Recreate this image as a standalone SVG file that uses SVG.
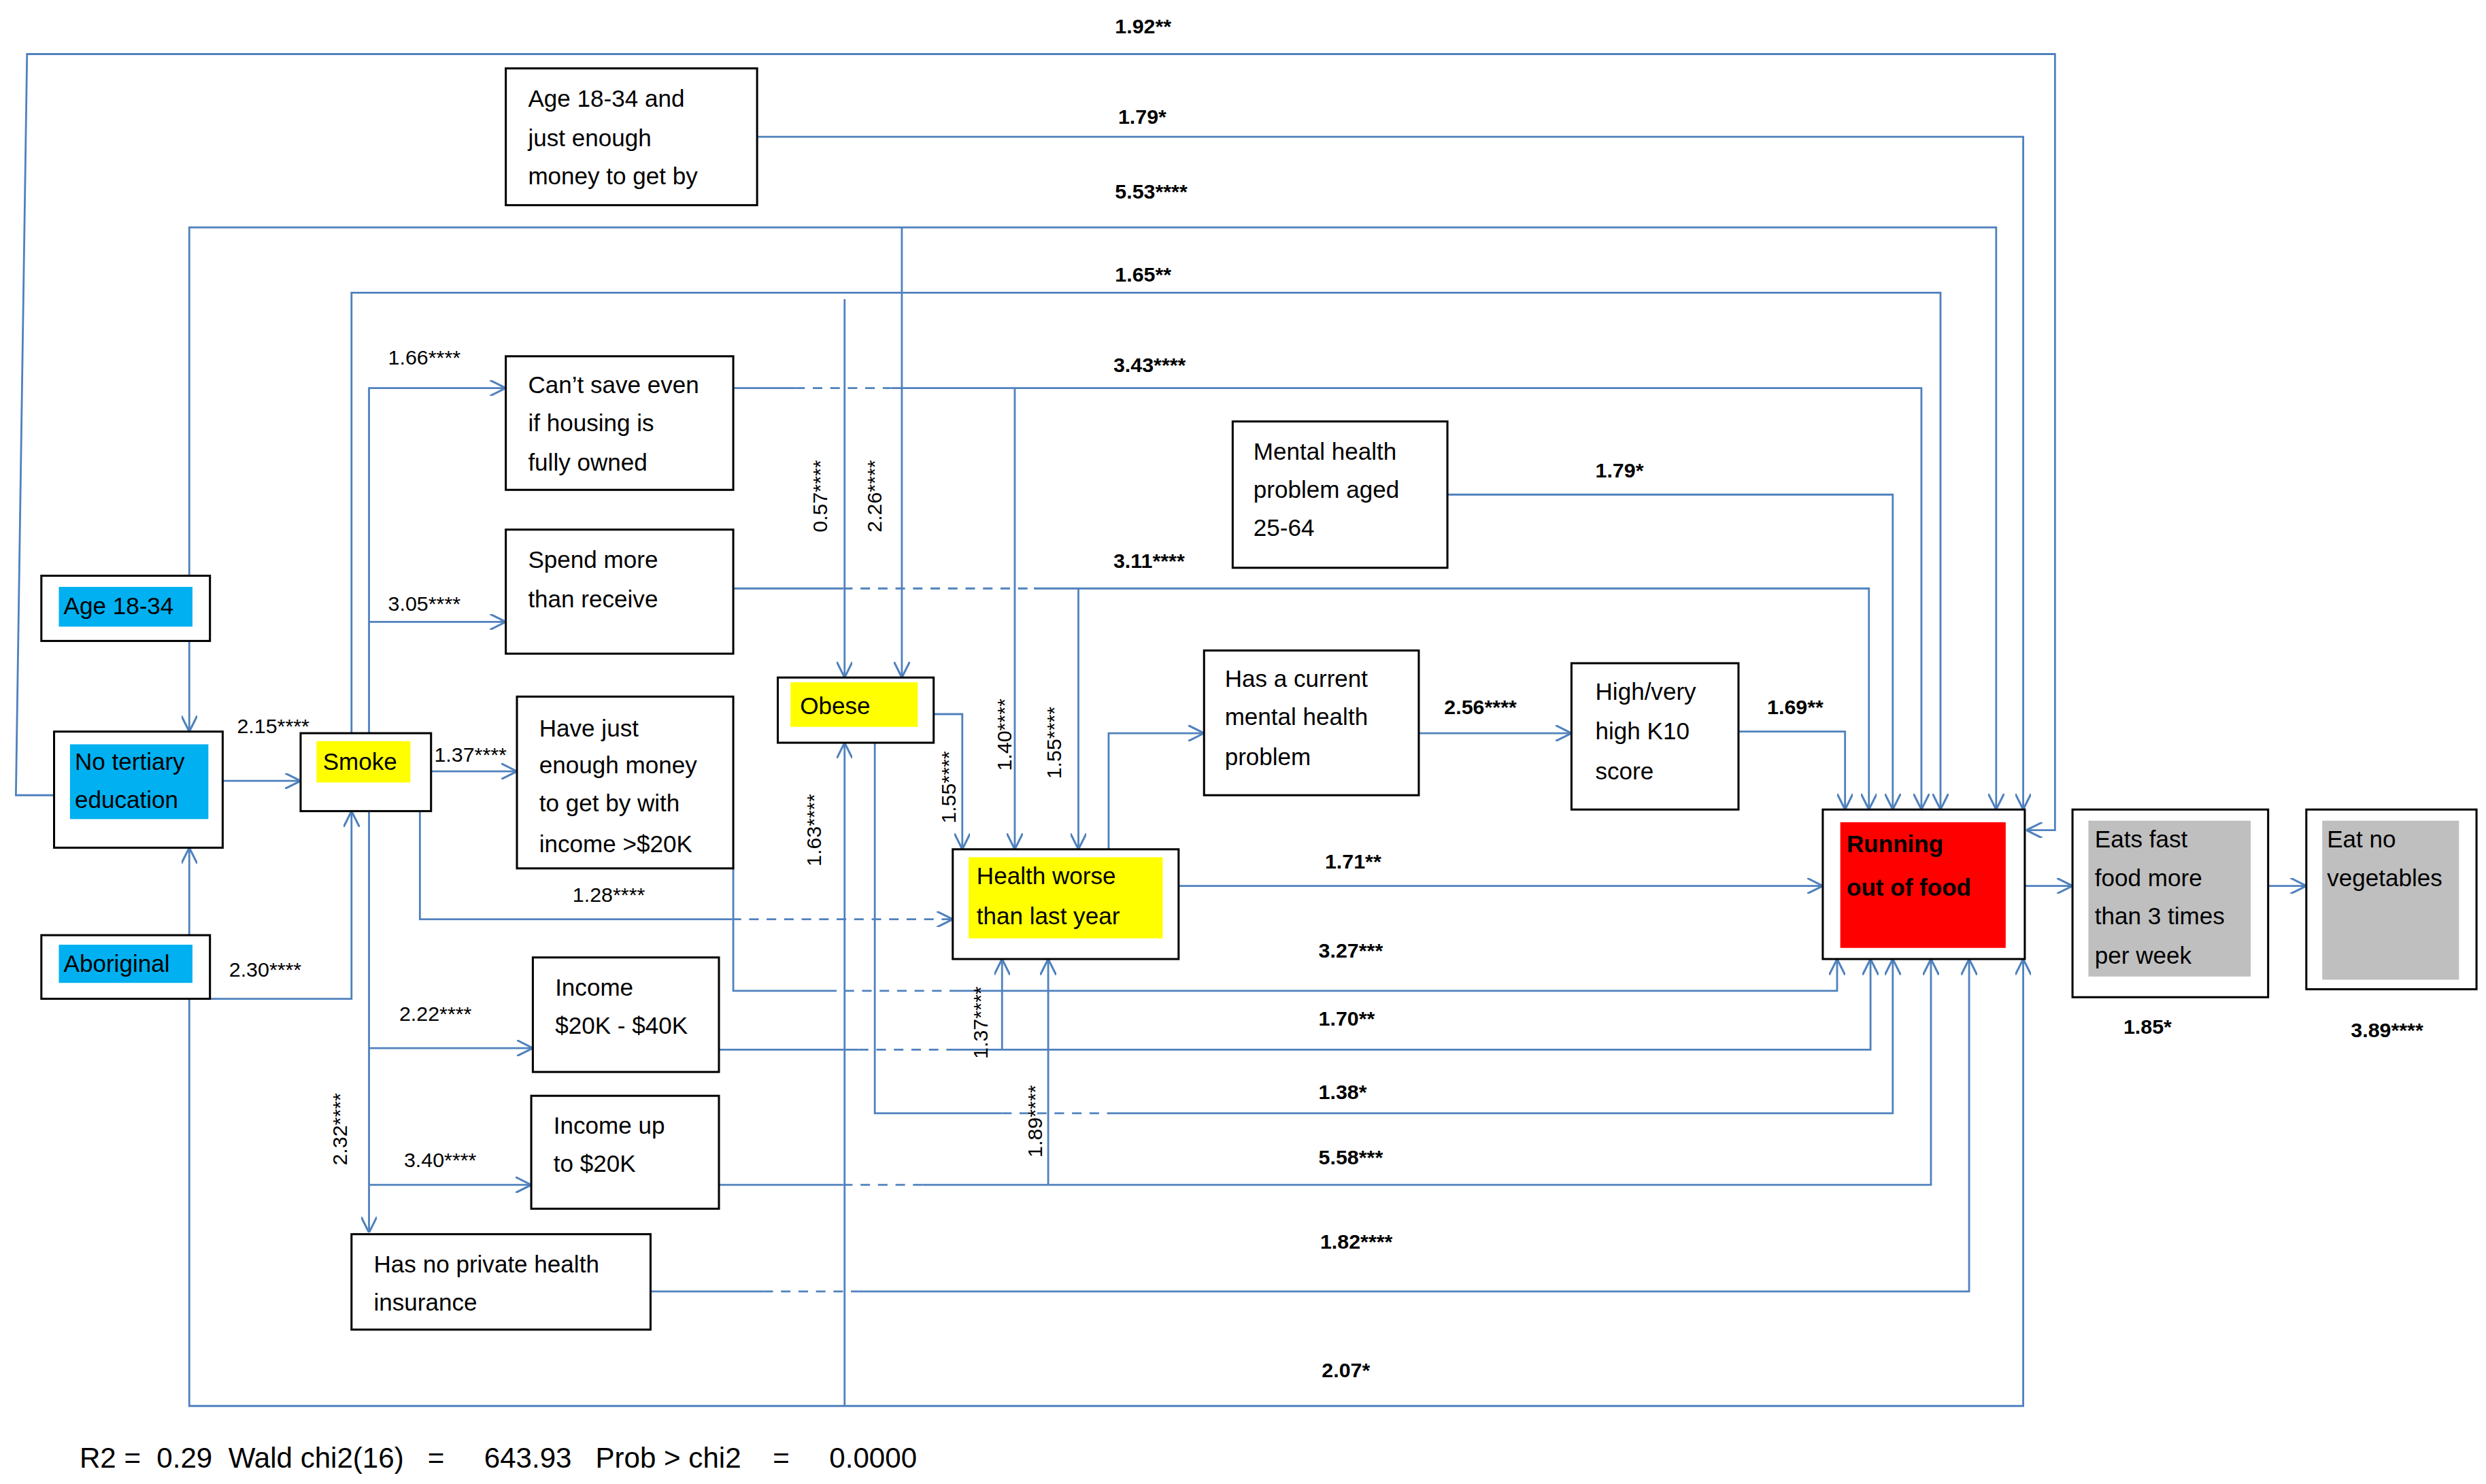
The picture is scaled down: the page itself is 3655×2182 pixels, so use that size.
<svg xmlns="http://www.w3.org/2000/svg" width="3655" height="2182" viewBox="0 0 3655 2182">
<style>
.n{fill:#fff;stroke:#000;stroke-width:1.3}
.t{font-family:"Liberation Sans Narrow","Liberation Sans",Arial,sans-serif;font-size:15px;fill:#000}
.l{font-family:"Liberation Sans Narrow","Liberation Sans",Arial,sans-serif;font-size:13px;font-weight:bold;fill:#000}
.s{font-family:"Liberation Sans Narrow","Liberation Sans",Arial,sans-serif;font-size:13px;fill:#000}
.c{fill:none;stroke:#4f81bd;stroke-width:1.2}
.d{fill:none;stroke:#4f81bd;stroke-width:1.2;stroke-dasharray:6,5}
</style>
<defs>
<marker id="a" viewBox="0 0 10 10" refX="10" refY="5" markerWidth="10" markerHeight="10" markerUnits="userSpaceOnUse" orient="auto"><path d="M0,0 L10,5 L0,10" fill="none" stroke="#4f81bd" stroke-width="1.3"/></marker>
</defs>
<rect width="3655" height="2182" fill="#fff"/>
<g transform="scale(2.3385)">
<g id="connectors">
<path class="c" d="M34,500 H10 L17,34 H1292 V522 H1274" marker-end="url(#a)"/>
<path class="c" d="M476,86 H1272 V509" marker-end="url(#a)"/>
<path class="c" d="M119,362 V143 H1255 V509" marker-end="url(#a)"/>
<path class="c" d="M567,143 V426" marker-end="url(#a)"/>
<path class="c" d="M119,403 V460" marker-end="url(#a)"/>
<path class="c" d="M221,461 V184 H1220 V509" marker-end="url(#a)"/>
<path class="c" d="M531,188 V426" marker-end="url(#a)"/>
<path class="c" d="M232,461 V244 H318" marker-end="url(#a)"/>
<path class="c" d="M232,391 H318" marker-end="url(#a)"/>
<path class="c" d="M461,244 H500"/><path class="d" d="M500,244 H560"/>
<path class="c" d="M560,244 H1208 V509" marker-end="url(#a)"/>
<path class="c" d="M638,244 V534" marker-end="url(#a)"/>
<path class="c" d="M461,370 H530"/><path class="d" d="M530,370 H650"/>
<path class="c" d="M650,370 H1175 V509" marker-end="url(#a)"/>
<path class="c" d="M678,370 V534" marker-end="url(#a)"/>
<path class="c" d="M910,311 H1190 V509" marker-end="url(#a)"/>
<path class="c" d="M587,449 H605 V534" marker-end="url(#a)"/>
<path class="c" d="M697,534 V461 H757" marker-end="url(#a)"/>
<path class="c" d="M892,461 H988" marker-end="url(#a)"/>
<path class="c" d="M1093,460 H1160 V509" marker-end="url(#a)"/>
<path class="c" d="M741,557 H1146" marker-end="url(#a)"/>
<path class="c" d="M264,510 V578 H460"/><path class="d" d="M460,578 H599" marker-end="url(#a)"/>
<path class="c" d="M461,546 V623 H520"/><path class="d" d="M520,623 H600"/>
<path class="c" d="M600,623 H1155 V603" marker-end="url(#a)"/>
<path class="c" d="M452,660 H540"/><path class="d" d="M540,660 H600"/>
<path class="c" d="M600,660 H1176 V603" marker-end="url(#a)"/>
<path class="c" d="M630,660 V603" marker-end="url(#a)"/>
<path class="c" d="M550,467 V700 H630"/><path class="d" d="M630,700 H700"/>
<path class="c" d="M700,700 H1190 V603" marker-end="url(#a)"/>
<path class="c" d="M452,745 H530"/><path class="d" d="M530,745 H580"/>
<path class="c" d="M580,745 H1214 V603" marker-end="url(#a)"/>
<path class="c" d="M659,745 V603" marker-end="url(#a)"/>
<path class="c" d="M409,812 H480"/><path class="d" d="M480,812 H540"/>
<path class="c" d="M540,812 H1238 V603" marker-end="url(#a)"/>
<path class="c" d="M119,628 V884 H1272 V603" marker-end="url(#a)"/>
<path class="c" d="M531,884 V467" marker-end="url(#a)"/>
<path class="c" d="M119,588 V533" marker-end="url(#a)"/>
<path class="c" d="M132,628 H221 V510" marker-end="url(#a)"/>
<path class="c" d="M140,491 H189" marker-end="url(#a)"/>
<path class="c" d="M271,485 H325" marker-end="url(#a)"/>
<path class="c" d="M232,510 V775" marker-end="url(#a)"/>
<path class="c" d="M232,659 H335" marker-end="url(#a)"/>
<path class="c" d="M232,745 H334" marker-end="url(#a)"/>
<path class="c" d="M1273,557 H1303" marker-end="url(#a)"/>
<path class="c" d="M1426,557 H1450" marker-end="url(#a)"/>
</g>
<g id="labels">
<text class="l" x="701" y="21">1.92**</text>
<text class="l" x="703" y="78">1.79*</text>
<text class="l" x="701" y="125">5.53****</text>
<text class="l" x="701" y="177">1.65**</text>
<text class="l" x="700" y="234">3.43****</text>
<text class="l" x="1003" y="300">1.79*</text>
<text class="l" x="700" y="357">3.11****</text>
<text class="l" x="908" y="449">2.56****</text>
<text class="l" x="1111" y="449">1.69**</text>
<text class="l" x="833" y="546">1.71**</text>
<text class="l" x="829" y="602">3.27***</text>
<text class="l" x="829" y="645">1.70**</text>
<text class="l" x="829" y="691">1.38*</text>
<text class="l" x="829" y="732">5.58***</text>
<text class="l" x="830" y="785">1.82****</text>
<text class="l" x="831" y="866">2.07*</text>
<text class="l" x="1335" y="650">1.85*</text>
<text class="l" x="1478" y="652">3.89****</text>
<text class="s" x="244" y="229">1.66****</text>
<text class="s" x="244" y="384">3.05****</text>
<text class="s" x="149" y="461">2.15****</text>
<text class="s" x="273" y="479">1.37****</text>
<text class="s" x="360" y="567">1.28****</text>
<text class="s" x="144" y="614">2.30****</text>
<text class="s" x="251" y="642">2.22****</text>
<text class="s" x="254" y="734">3.40****</text>
<text class="s" transform="translate(520,312) rotate(-90)" text-anchor="middle">0.57****</text>
<text class="s" transform="translate(554,312) rotate(-90)" text-anchor="middle">2.26****</text>
<text class="s" transform="translate(636,462) rotate(-90)" text-anchor="middle">1.40****</text>
<text class="s" transform="translate(667,467) rotate(-90)" text-anchor="middle">1.55****</text>
<text class="s" transform="translate(601,495) rotate(-90)" text-anchor="middle">1.55****</text>
<text class="s" transform="translate(516,522) rotate(-90)" text-anchor="middle">1.63****</text>
<text class="s" transform="translate(218,710) rotate(-90)" text-anchor="middle">2.32****</text>
<text class="s" transform="translate(621,643) rotate(-90)" text-anchor="middle">1.37****</text>
<text class="s" transform="translate(655,705) rotate(-90)" text-anchor="middle">1.89****</text>
<text class="t" x="50" y="923" style="font-size:18px" xml:space="preserve">R2 =  0.29  Wald chi2(16)   =     643.93   Prob &gt; chi2    =     0.0000</text>
</g>
<g id="n_agemoney"><rect class="n" x="318" y="43" width="158" height="86"/><text class="t" x="332" y="67">Age 18-34 and</text><text class="t" x="332" y="92">just enough</text><text class="t" x="332" y="116">money to get by</text></g>
<g id="n_cantsave"><rect class="n" x="318" y="224" width="143" height="84"/><text class="t" x="332" y="247">Can’t save even</text><text class="t" x="332" y="271">if housing is</text><text class="t" x="332" y="296">fully owned</text></g>
<g id="n_spend"><rect class="n" x="318" y="333" width="143" height="78"/><text class="t" x="332" y="357">Spend more</text><text class="t" x="332" y="382">than receive</text></g>
<g id="n_justenough"><rect class="n" x="325" y="438" width="136" height="108"/><text class="t" x="339" y="463">Have just</text><text class="t" x="339" y="486">enough money</text><text class="t" x="339" y="510">to get by with</text><text class="t" x="339" y="536">income &gt;$20K</text></g>
<g id="n_age"><rect class="n" x="26" y="362" width="106" height="41"/><rect x="37" y="369" width="84" height="25" fill="#00b0f0"/><text class="t" x="40" y="386">Age 18-34</text></g>
<g id="n_tertiary"><rect class="n" x="34" y="460" width="106" height="73"/><rect x="44" y="468" width="87" height="47" fill="#00b0f0"/><text class="t" x="47" y="484">No tertiary</text><text class="t" x="47" y="508">education</text></g>
<g id="n_aboriginal"><rect class="n" x="26" y="588" width="106" height="40"/><rect x="37" y="594" width="84" height="24" fill="#00b0f0"/><text class="t" x="40" y="611">Aboriginal</text></g>
<g id="n_smoke"><rect class="n" x="189" y="461" width="82" height="49"/><rect x="199" y="466" width="59" height="26" fill="#ffff00"/><text class="t" x="203" y="484">Smoke</text></g>
<g id="n_obese"><rect class="n" x="489" y="426" width="98" height="41"/><rect x="497" y="429" width="80" height="28" fill="#ffff00"/><text class="t" x="503" y="449">Obese</text></g>
<g id="n_mentalaged"><rect class="n" x="775" y="265" width="135" height="92"/><text class="t" x="788" y="289">Mental health</text><text class="t" x="788" y="313">problem aged</text><text class="t" x="788" y="337">25-64</text></g>
<g id="n_current"><rect class="n" x="757" y="409" width="135" height="91"/><text class="t" x="770" y="432">Has a current</text><text class="t" x="770" y="456">mental health</text><text class="t" x="770" y="481">problem</text></g>
<g id="n_k10"><rect class="n" x="988" y="417" width="105" height="92"/><text class="t" x="1003" y="440">High/very</text><text class="t" x="1003" y="465">high K10</text><text class="t" x="1003" y="490">score</text></g>
<g id="n_health"><rect class="n" x="599" y="534" width="142" height="69"/><rect x="609" y="539" width="122" height="51" fill="#ffff00"/><text class="t" x="614" y="556">Health worse</text><text class="t" x="614" y="581">than last year</text></g>
<g id="n_running"><rect class="n" x="1146" y="509" width="127" height="94"/><rect x="1157" y="517" width="104" height="79" fill="#ff0000"/><text class="t" x="1161" y="536" font-weight="bold">Running</text><text class="t" x="1161" y="563" font-weight="bold">out of food</text></g>
<g id="n_fastfood"><rect class="n" x="1303" y="509" width="123" height="118"/><rect x="1313" y="516" width="102" height="98" fill="#bfbfbf"/><text class="t" x="1317" y="533">Eats fast</text><text class="t" x="1317" y="557">food more</text><text class="t" x="1317" y="581">than 3 times</text><text class="t" x="1317" y="606">per week</text></g>
<g id="n_veg"><rect class="n" x="1450" y="509" width="107" height="113"/><rect x="1460" y="516" width="86" height="100" fill="#bfbfbf"/><text class="t" x="1463" y="533">Eat no</text><text class="t" x="1463" y="557">vegetables</text></g>
<g id="n_inc2040"><rect class="n" x="335" y="602" width="117" height="72"/><text class="t" x="349" y="626">Income</text><text class="t" x="349" y="650">$20K - $40K</text></g>
<g id="n_inc20"><rect class="n" x="334" y="689" width="118" height="71"/><text class="t" x="348" y="713">Income up</text><text class="t" x="348" y="737">to $20K</text></g>
<g id="n_private"><rect class="n" x="221" y="776" width="188" height="60"/><text class="t" x="235" y="800">Has no private health</text><text class="t" x="235" y="824">insurance</text></g>
</g>
</svg>
